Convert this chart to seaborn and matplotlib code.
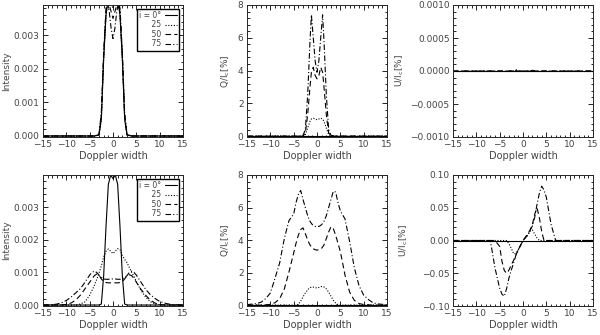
import matplotlib
matplotlib.use("Agg")
import matplotlib.pyplot as plt
import seaborn as sns
from matplotlib.ticker import MultipleLocator, AutoMinorLocator

# ---- datos ----
labels = ["i = 0°", "    25", "    50", "    75"]
estilos = ["-", (0, (1, 1.5)), (0, (5, 3)), (0, (5, 2, 1, 2))]

# fila superior (perfiles estrechos)
x_sup = [-15, -4, -3, -2.5, -2, -1.5, -1.2, -0.8, -0.4, 0, 0.4, 0.8, 1.2, 1.5, 2, 2.5, 3, 4, 15]

I_sup_0 = [0, 0, 0.00003, 0.0005, 0.0023, 0.0036, 0.0039, 0.0040, 0.0040, 0.0039, 0.0040, 0.0040, 0.0039, 0.0036, 0.0023, 0.0005, 0.00003, 0, 0]
I_sup_25 = [0, 0, 0.00003, 0.0005, 0.0023, 0.0036, 0.0039, 0.0040, 0.0040, 0.0038, 0.0040, 0.0040, 0.0039, 0.0036, 0.0023, 0.0005, 0.00003, 0, 0]
I_sup_50 = [0, 0, 0.00004, 0.0006, 0.0024, 0.0037, 0.0040, 0.0039, 0.0037, 0.0035, 0.0037, 0.0039, 0.0040, 0.0037, 0.0024, 0.0006, 0.00004, 0, 0]
I_sup_75 = [0, 0, 0.00005, 0.0007, 0.0025, 0.0038, 0.0040, 0.0037, 0.0032, 0.0029, 0.0032, 0.0037, 0.0040, 0.0038, 0.0025, 0.0007, 0.00005, 0, 0]

Q_sup_0 = [0] * 19
Q_sup_25 = [0, 0, 0, 0.1, 0.5, 0.9, 1.05, 1.1, 1.05, 1.0, 1.05, 1.1, 1.05, 0.9, 0.5, 0.1, 0, 0, 0]
Q_sup_50 = [0, 0, 0, 0.2, 1.3, 3.0, 3.9, 4.2, 3.7, 3.5, 3.7, 4.2, 3.9, 3.0, 1.3, 0.2, 0, 0, 0]
Q_sup_75 = [0, 0, 0.05, 0.4, 2.5, 5.8, 7.4, 6.0, 4.6, 3.9, 4.6, 6.0, 7.4, 5.8, 2.5, 0.4, 0.05, 0, 0]

U_sup_0 = [0] * 19
U_sup_25 = [0] * 19
U_sup_50 = [0, 0, 0, 0, 0, 0.00001, 0, 0, 0, 0, 0, 0, 0, 0, 0.00001, 0, 0, 0, 0]
U_sup_75 = [0, 0, 0, 0, 0, 0.00002, 0, 0, 0, 0, 0, 0, 0, 0, 0.00001, 0, 0, 0, 0]

# fila inferior (perfiles anchos)
x_inf = [-15, -13, -12, -11, -10, -9, -8, -7, -6, -5, -4.5, -4, -3.5, -3, -2.5, -2, -1.5, -1, -0.5, 0,
         0.5, 1, 1.5, 2, 2.5, 3, 3.5, 4, 4.5, 5, 6, 7, 8, 9, 10, 11, 12, 13, 15]

I_inf_0 = [0, 0, 0, 0, 0, 0, 0, 0, 0, 0, 0, 0, 0, 0, 0.00003, 0.0009, 0.0024, 0.0037, 0.00399, 0.00388,
           0.00399, 0.0037, 0.0024, 0.0009, 0.00003, 0, 0, 0, 0, 0, 0, 0, 0, 0, 0, 0, 0, 0, 0]
I_inf_25 = [0, 0, 0, 0, 0, 0, 0, 0.00003, 0.0001, 0.0003, 0.00045, 0.0006, 0.00078, 0.00098, 0.0012, 0.00148, 0.00165, 0.00172, 0.00165, 0.00158,
            0.00165, 0.00173, 0.0017, 0.00152, 0.0014, 0.0013, 0.00115, 0.001, 0.00088, 0.00072, 0.00045, 0.00024, 0.0001, 0.00004, 0.00001, 0, 0, 0, 0]
I_inf_50 = [0, 0, 0, 0, 0.00002, 0.00006, 0.00015, 0.0003, 0.0005, 0.0007, 0.0008, 0.0009, 0.00095, 0.00092, 0.0008, 0.00072, 0.00069, 0.00068, 0.00068, 0.00068,
            0.00068, 0.00068, 0.00069, 0.00072, 0.0008, 0.0009, 0.00093, 0.0009, 0.00082, 0.0007, 0.00048, 0.0003, 0.00015, 0.00006, 0.00002, 0, 0, 0, 0]
I_inf_75 = [0, 0.00001, 0.00003, 0.00007, 0.00014, 0.00024, 0.00037, 0.0005, 0.0007, 0.00092, 0.001, 0.00104, 0.001, 0.00092, 0.00085, 0.0008, 0.00079, 0.00079, 0.0008, 0.0008,
            0.0008, 0.00079, 0.00079, 0.0008, 0.00085, 0.0009, 0.001, 0.00104, 0.001, 0.00092, 0.0007, 0.00048, 0.00032, 0.0002, 0.00011, 0.00006, 0.00003, 0.00001, 0]

Q_inf_0 = [0] * 39
Q_inf_25 = [0, 0, 0, 0, 0, 0, 0, 0, 0, 0, 0, 0.05, 0.25, 0.5, 0.75, 0.95, 1.08, 1.12, 1.1, 1.05,
            1.1, 1.15, 1.12, 1.0, 0.8, 0.55, 0.3, 0.12, 0.03, 0, 0, 0, 0, 0, 0, 0, 0, 0, 0]
Q_inf_50 = [0, 0, 0, 0.02, 0.05, 0.15, 0.4, 1.0, 2.05, 3.2, 3.8, 4.3, 4.65, 4.75, 4.4, 4.0, 3.7, 3.5, 3.42, 3.38,
            3.42, 3.5, 3.7, 4.1, 4.5, 4.82, 4.7, 4.3, 3.8, 3.3, 1.85, 0.8, 0.3, 0.1, 0.04, 0.02, 0, 0, 0]
Q_inf_75 = [0.03, 0.1, 0.18, 0.4, 0.75, 1.65, 2.6, 4.1, 5.2, 5.6, 6.3, 6.8, 7.05, 6.5, 6.0, 5.5, 5.15, 4.95, 4.85, 4.82,
            4.85, 4.95, 5.15, 5.5, 6.0, 6.5, 7.0, 6.95, 6.3, 5.8, 5.3, 3.9, 2.3, 1.2, 0.62, 0.35, 0.15, 0.08, 0.02]

U_inf_0 = [0] * 39
U_inf_25 = [0, 0, 0, 0, 0, 0, 0, 0, 0, 0, 0, 0, 0, -0.005, -0.012, -0.02, -0.02, -0.014, -0.007, 0,
            0.004, 0.008, 0.014, 0.016, 0.01, 0.004, 0, 0, 0, 0, 0, 0, 0, 0, 0, 0, 0, 0, 0]
U_inf_50 = [0, 0, 0, 0, 0, 0, 0, 0, 0, -0.009, -0.032, -0.046, -0.05, -0.045, -0.037, -0.03, -0.022, -0.014, -0.007, 0,
            0.005, 0.01, 0.016, 0.024, 0.04, 0.05, 0.035, 0.014, 0, 0, 0, 0, 0, 0, 0, 0, 0, 0, 0]
U_inf_75 = [0, 0, 0, 0, 0, 0, 0, 0, -0.042, -0.073, -0.082, -0.085, -0.073, -0.057, -0.045, -0.034, -0.022, -0.014, -0.007, 0,
            0.004, 0.008, 0.015, 0.022, 0.035, 0.055, 0.072, 0.083, 0.077, 0.066, 0.025, 0, 0, 0, 0, 0, 0, 0, 0]

# (x, curvas, etiqueta y, limites y, paso mayor, leyenda, posicion etiqueta y)
paneles = [
    (x_sup, [I_sup_0, I_sup_25, I_sup_50, I_sup_75], "Intensity", (-0.00003, 0.0039), 0.001, True, -0.225),
    (x_sup, [Q_sup_0, Q_sup_25, Q_sup_50, Q_sup_75], "Q/I$_\\mathrm{c}$[%]", (-0.05, 8), 2, False, -0.11),
    (x_sup, [U_sup_0, U_sup_25, U_sup_50, U_sup_75], "U/I$_\\mathrm{c}$[%]", (-0.001, 0.001), 0.0005, False, -0.335),
    (x_inf, [I_inf_0, I_inf_25, I_inf_50, I_inf_75], "Intensity", (-0.00003, 0.00399), 0.001, True, -0.225),
    (x_inf, [Q_inf_0, Q_inf_25, Q_inf_50, Q_inf_75], "Q/I$_\\mathrm{c}$[%]", (-0.05, 8), 2, False, -0.11),
    (x_inf, [U_inf_0, U_inf_25, U_inf_50, U_inf_75], "U/I$_\\mathrm{c}$[%]", (-0.1, 0.1), 0.05, False, -0.31),
]

formatos = {0.001: "{:.3f}", 2: "{:.0f}", 0.0005: "{:.4f}", 0.05: "{:.2f}"}

sns.set_style("ticks")
plt.rcParams["font.family"] = ["DejaVu Sans"]
plt.rcParams["mathtext.fontset"] = "dejavusans"

gris = "#444444"
fig = plt.figure(figsize=(6, 3.35), dpi=100)

# posiciones de los ejes (en pixeles de la figura)
cols = [43, 247, 453]
filas = [(5, 137), (175, 306)]

for k, (xs, curvas, ylab, ylim, paso, leyenda, ypos) in enumerate(paneles):
    fila, col = divmod(k, 3)
    arriba, abajo = filas[fila]
    ax = fig.add_axes([cols[col] / 600, 1 - abajo / 335, 140 / 600, (abajo - arriba) / 335])
    for ys, lab, ls in zip(curvas, labels, estilos):
        sns.lineplot(x=xs, y=ys, ax=ax, color="k", linestyle=ls, lw=0.8, label=lab)
    ax.set_xlim(-15, 15)
    ax.set_ylim(*ylim)
    ax.xaxis.set_major_locator(MultipleLocator(5))
    ax.xaxis.set_minor_locator(AutoMinorLocator(5))
    ax.yaxis.set_major_locator(MultipleLocator(paso))
    ax.yaxis.set_minor_locator(AutoMinorLocator(5))
    fmt = formatos[paso]
    ax.yaxis.set_major_formatter(lambda v, p, f=fmt: f.format(v).replace("-", "\u2212"))
    ax.xaxis.set_major_formatter(lambda v, p: "{:.0f}".format(v).replace("-", "\u2212"))
    ax.tick_params(which="both", direction="in", top=True, right=True, colors="k",
                   labelcolor=gris, labelsize=6.5, width=0.6, pad=2.5)
    ax.tick_params(which="major", length=3.5)
    ax.tick_params(which="minor", length=1.8)
    for s in ax.spines.values():
        s.set_linewidth(0.7)
    ax.set_xlabel("Doppler width", fontsize=7, color=gris, labelpad=1)
    ax.set_ylabel(ylab, fontsize=6.5, color=gris)
    ax.yaxis.set_label_coords(ypos, 0.5)
    if leyenda:
        ax.legend(loc="upper right", markerfirst=False, fontsize=5.5, handlelength=1.6,
                  handletextpad=0.4, labelspacing=0.05, borderpad=0.3, borderaxespad=0.5,
                  fancybox=False, edgecolor="k", framealpha=1, labelcolor=gris)
    else:
        ax.get_legend().remove()

plt.savefig("out.png", dpi=100)
